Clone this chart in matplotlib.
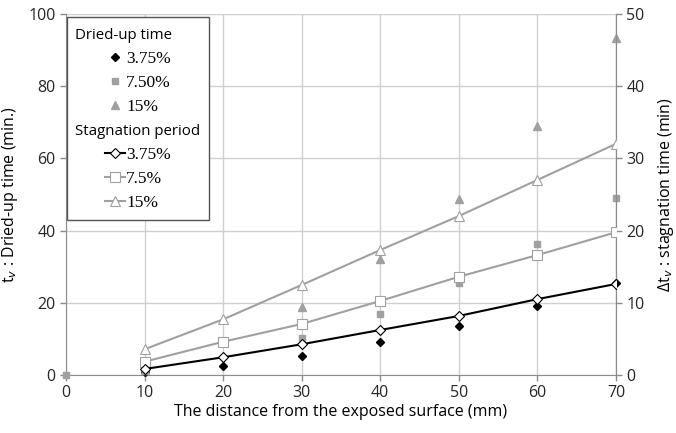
import matplotlib
matplotlib.use("Agg")
import matplotlib.pyplot as plt
from matplotlib.lines import Line2D
from matplotlib.offsetbox import DrawingArea

# distance from exposed surface (mm)
dist = [10, 20, 30, 40, 50, 60, 70]

# dried-up time t_v (min), left axis
dry_375 = [0.9, 2.5, 5.3, 9.0, 13.7, 19.2, 25.6]
dry_750_x = [0, 10, 20, 30, 40, 50, 60, 70]
dry_750 = [0, 1.5, 8.8, 10.2, 16.9, 25.6, 36.3, 48.9]
dry_15 = [1.5, 9.2, 18.7, 32.0, 48.7, 69.0, 93.3]

# stagnation time dt_v (min), right axis
stag_375 = [0.83, 2.45, 4.25, 6.23, 8.17, 10.5, 12.6]
stag_75 = [1.84, 4.6, 7.06, 10.25, 13.6, 16.6, 19.76]
stag_15 = [3.56, 7.7, 12.46, 17.3, 22.0, 27.0, 32.0]

GRAY = "#a0a0a0"
SANS = ["Open Sans", "DejaVu Sans"]
SERIF = "Liberation Serif"

plt.rcParams["font.family"] = SANS

fig = plt.figure(figsize=(6.76, 4.33), dpi=100)
ax = fig.add_axes([0.0976, 0.134, 0.8135, 0.834])
ax2 = ax.twinx()

# scatter: dried-up time
ax.plot(dist, dry_375, ls="none", marker="D", ms=3.8, color="black", clip_on=False, zorder=3)
ax.plot(dry_750_x, dry_750, ls="none", marker="s", ms=5, color=GRAY, clip_on=False, zorder=3)
ax.plot(dist, dry_15, ls="none", marker="^", ms=5.5, color=GRAY, clip_on=False, zorder=3)

# lines: stagnation period
ax2.plot(dist, stag_375, color="black", lw=1.5, marker="D", ms=5.5, mfc="white", mec="black", mew=0.8, zorder=4)
ax2.plot(dist, stag_75, color=GRAY, lw=1.5, marker="s", ms=6.5, mfc="white", mec=GRAY, mew=0.8, zorder=3)
ax2.plot(dist, stag_15, color=GRAY, lw=1.5, marker="^", ms=7.5, mfc="white", mec=GRAY, mew=0.8, zorder=3)

ax.set_xlim(0, 70)
ax.set_ylim(0, 100)
ax2.set_ylim(0, 50)
ax.set_xticks(range(0, 71, 10))
ax.set_yticks(range(0, 101, 20))
ax2.set_yticks(range(0, 51, 10))

ax.grid(True, color="#d0d0d0", lw=1)
ax.set_axisbelow(True)

for a in (ax, ax2):
    a.spines["top"].set_visible(False)
    for s in ("left", "right", "bottom"):
        a.spines[s].set_color("#8c8c8c")
    a.tick_params(labelsize=11.5, colors="#8c8c8c", labelcolor="#262626", length=4, width=1)
ax2.spines["left"].set_visible(False)
ax2.spines["bottom"].set_visible(False)

ax.set_xlabel("The distance from the exposed surface (mm)", fontsize=11.5, labelpad=2)
ax.set_ylabel("t$_v$ : Dried-up time (min.)", fontsize=11.5, labelpad=6)
ax2.set_ylabel("\u0394t$_v$ : stagnation time (min)", fontsize=11.5, labelpad=8)

blank = Line2D([], [], ls="none")
handles = [
    blank,
    Line2D([], [], ls="none", marker="D", ms=3.8, color="black"),
    Line2D([], [], ls="none", marker="s", ms=5, color=GRAY),
    Line2D([], [], ls="none", marker="^", ms=5.5, color=GRAY),
    blank,
    Line2D([], [], color="black", lw=1.5, marker="D", ms=5.5, mfc="white", mec="black", mew=0.8),
    Line2D([], [], color=GRAY, lw=1.5, marker="s", ms=6.5, mfc="white", mec=GRAY, mew=0.8),
    Line2D([], [], color=GRAY, lw=1.5, marker="^", ms=7.5, mfc="white", mec=GRAY, mew=0.8),
]
labels = ["Dried-up time", "3.75%", "7.50%", "15%",
          "Stagnation period", "3.75%", "7.5%", "15%"]
headers = {0, 4}

leg = ax2.legend(handles, labels, loc="upper left", bbox_to_anchor=(0.002, 0.99),
                 borderaxespad=0, frameon=True, fancybox=False, framealpha=1,
                 edgecolor="#555555", handlelength=1.15, handletextpad=0.05,
                 labelspacing=0.45, borderpad=0.55, fontsize=12.5)
leg.get_frame().set_linewidth(1.0)

# headers sit flush left; entries are indented and use a serif face
rows = leg._legend_handle_box.get_children()[0].get_children()
for i, (txt, row) in enumerate(zip(leg.get_texts(), rows)):
    if i in headers:
        txt.set_fontfamily(SANS)
        txt.set_fontsize(10.8)
        row.get_children()[0].set_width(-2)
    else:
        txt.set_fontfamily(SERIF)
        row._children.insert(0, DrawingArea(20, 0))

fig.savefig("out.png", dpi=100)
